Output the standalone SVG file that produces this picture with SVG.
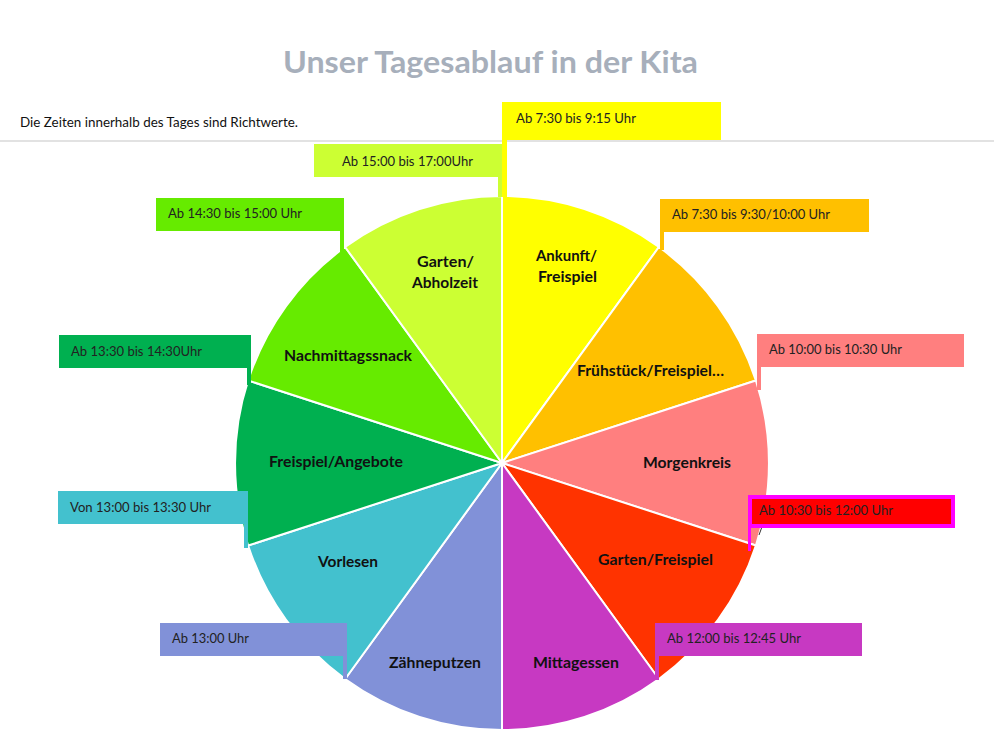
<svg xmlns="http://www.w3.org/2000/svg" width="994" height="742" viewBox="0 0 994 742">
<style>
.t{font-family:Lato,"Liberation Sans",Arial,sans-serif;}
.title{font-size:31px;font-weight:bold;fill:#A7AFBB;}
.sub{font-size:13px;fill:#111;}
.lbl{font-size:14.5px;font-weight:bold;fill:#111;text-anchor:start;}
.co{font-size:13px;fill:#222;}
.sl{stroke:#fff;stroke-width:2;stroke-linejoin:round;}
</style>
<rect width="994" height="742" fill="#fff"/>
<text class="t title" x="283" y="73" textLength="415" lengthAdjust="spacingAndGlyphs">Unser Tagesablauf in der Kita</text>
<text class="t sub" x="20" y="127" textLength="278" lengthAdjust="spacingAndGlyphs">Die Zeiten innerhalb des Tages sind Richtwerte.</text>
<line x1="0" y1="141" x2="994" y2="141" stroke="#D9D9D9" stroke-width="1.5"/>

<g id="pie">
<g id="slice-ankunft"><path class="sl" fill="#FFFF00" d="M502,463 L502,196 A267,267 0 0 1 658.9,247 Z"/></g>
<g id="slice-fruehstueck"><path class="sl" fill="#FFC000" d="M502,463 L658.9,247 A267,267 0 0 1 755.9,380.5 Z"/></g>
<g id="slice-morgenkreis"><path class="sl" fill="#FF7F7F" d="M502,463 L755.9,380.5 A267,267 0 0 1 755.9,545.5 Z"/></g>
<g id="slice-garten-freispiel"><path class="sl" fill="#FF3300" d="M502,463 L755.9,545.5 A267,267 0 0 1 658.9,679 Z"/></g>
<g id="slice-mittagessen"><path class="sl" fill="#C739C2" d="M502,463 L658.9,679 A267,267 0 0 1 502,730 Z"/></g>
<g id="slice-zaehneputzen"><path class="sl" fill="#8191D8" d="M502,463 L502,730 A267,267 0 0 1 345.1,679 Z"/></g>
<g id="slice-vorlesen"><path class="sl" fill="#43C1CE" d="M502,463 L345.1,679 A267,267 0 0 1 248.1,545.5 Z"/></g>
<g id="slice-freispiel-angebote"><path class="sl" fill="#00B050" d="M502,463 L248.1,545.5 A267,267 0 0 1 248.1,380.5 Z"/></g>
<g id="slice-nachmittagssnack"><path class="sl" fill="#66EB00" d="M502,463 L248.1,380.5 A267,267 0 0 1 345.1,247 Z"/></g>
<g id="slice-garten-abholzeit"><path class="sl" fill="#CCFF33" d="M502,463 L345.1,247 A267,267 0 0 1 502,196 Z"/></g>
</g>

<g id="slice-labels">
<text class="t lbl" x="536" y="261" textLength="61" lengthAdjust="spacingAndGlyphs">Ankunft/</text>
<text class="t lbl" x="538" y="282" textLength="59" lengthAdjust="spacingAndGlyphs">Freispiel</text>
<text class="t lbl" x="577" y="376" textLength="147" lengthAdjust="spacingAndGlyphs">Frühstück/Freispiel…</text>
<text class="t lbl" x="643" y="468" textLength="88" lengthAdjust="spacingAndGlyphs">Morgenkreis</text>
<text class="t lbl" x="598" y="565" textLength="115" lengthAdjust="spacingAndGlyphs">Garten/Freispiel</text>
<text class="t lbl" x="533" y="668" textLength="86" lengthAdjust="spacingAndGlyphs">Mittagessen</text>
<text class="t lbl" x="389" y="668" textLength="92" lengthAdjust="spacingAndGlyphs">Zähneputzen</text>
<text class="t lbl" x="318" y="567" textLength="60" lengthAdjust="spacingAndGlyphs">Vorlesen</text>
<text class="t lbl" x="269" y="467" textLength="134" lengthAdjust="spacingAndGlyphs">Freispiel/Angebote</text>
<text class="t lbl" x="284" y="361" textLength="128" lengthAdjust="spacingAndGlyphs">Nachmittagssnack</text>
<text class="t lbl" x="417" y="267" textLength="57" lengthAdjust="spacingAndGlyphs">Garten/</text>
<text class="t lbl" x="412" y="288" textLength="66" lengthAdjust="spacingAndGlyphs">Abholzeit</text>
</g>

<g id="connectors">
<polygon fill="#CCFF33" points="498,177 502,177 502,197 498,197"/>
<polygon fill="#FFFF00" points="502,139 507,139 507,197 502,197"/>
<polygon fill="#66EB00" points="340,230 344,230 344,252 340,252"/>
<polygon fill="#FFC000" points="660,231 664,231 664,250 660,250"/>
<polygon fill="#FF7F7F" points="757,366 761,366 761,390 757,390"/>
<polygon fill="#FF00FF" points="748,527 751,527 751,551 748,551"/>
<line x1="763" y1="524" x2="759" y2="535" stroke="#333" stroke-width="1"/>
<polygon fill="#C739C2" points="655,655 659,655 659,680 655,680"/>
<polygon fill="#8191D8" points="343,655 347,655 347,679 343,679"/>
<polygon fill="#43C1CE" points="244,523 248,523 248,548 244,548"/>
<polygon fill="#00B050" points="247,367 251,367 251,385 247,385"/>
</g>

<g id="callout-0730-0915"><rect x="502" y="102" width="219" height="38" fill="#FFFF00"/><text class="t co" x="516" y="123" textLength="120" lengthAdjust="spacingAndGlyphs">Ab 7:30 bis 9:15 Uhr</text></g>
<g id="callout-1500-1700"><rect x="314" y="144" width="188" height="33" fill="#CCFF33"/><text class="t co" x="342" y="166" textLength="131" lengthAdjust="spacingAndGlyphs">Ab 15:00 bis 17:00Uhr</text></g>
<g id="callout-1430-1500"><rect x="156" y="198" width="188" height="33" fill="#66EB00"/><text class="t co" x="168" y="218" textLength="134" lengthAdjust="spacingAndGlyphs">Ab 14:30 bis 15:00 Uhr</text></g>
<g id="callout-0730-1000"><rect x="660" y="199" width="209" height="33" fill="#FFC000"/><text class="t co" x="672" y="219" textLength="158" lengthAdjust="spacingAndGlyphs">Ab 7:30 bis 9:30/10:00 Uhr</text></g>
<g id="callout-1000-1030"><rect x="757" y="334" width="207" height="33" fill="#FF7F7F"/><text class="t co" x="769" y="354" textLength="133" lengthAdjust="spacingAndGlyphs">Ab 10:00 bis 10:30 Uhr</text></g>
<g id="callout-1030-1200"><rect x="750" y="497" width="203" height="29" fill="#FF0000" stroke="#FF00FF" stroke-width="4"/><text class="t co" x="759" y="515" textLength="134" lengthAdjust="spacingAndGlyphs">Ab 10:30 bis 12:00 Uhr</text></g>
<g id="callout-1200-1245"><rect x="655" y="623" width="207" height="33" fill="#C739C2"/><text class="t co" x="667" y="643" textLength="134" lengthAdjust="spacingAndGlyphs">Ab 12:00 bis 12:45 Uhr</text></g>
<g id="callout-1300"><rect x="160" y="623" width="187" height="33" fill="#8191D8"/><text class="t co" x="172" y="643" textLength="77" lengthAdjust="spacingAndGlyphs">Ab 13:00 Uhr</text></g>
<g id="callout-1300-1330"><rect x="58" y="491" width="190" height="33" fill="#43C1CE"/><text class="t co" x="70" y="512" textLength="141" lengthAdjust="spacingAndGlyphs">Von 13:00 bis 13:30 Uhr</text></g>
<g id="callout-1330-1430"><rect x="59" y="335" width="192" height="33" fill="#00B050"/><text class="t co" x="71" y="356" textLength="131" lengthAdjust="spacingAndGlyphs">Ab 13:30 bis 14:30Uhr</text></g>
</svg>
